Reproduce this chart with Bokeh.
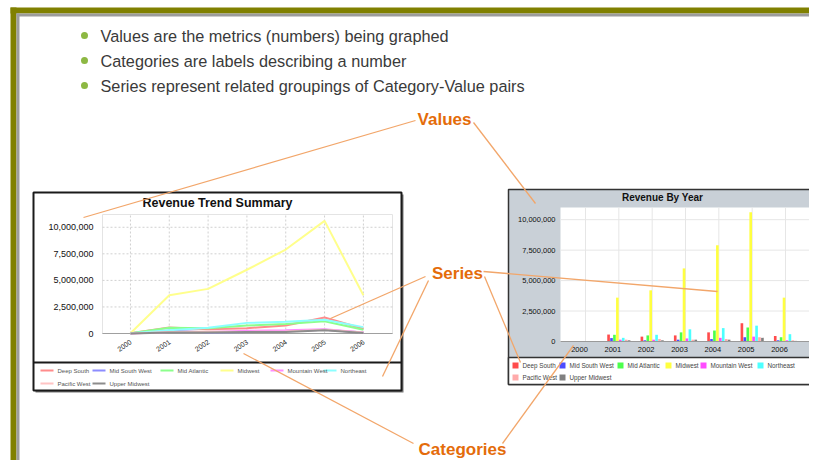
from bokeh.plotting import figure
from bokeh.models import Range1d
from bokeh.core.properties import value
from bokeh.embed import file_html
from bokeh.resources import INLINE

# ---------------- data ----------------
years = ["2000", "2001", "2002", "2003", "2004", "2005", "2006"]
series_names = ["Deep South", "Mid South West", "Mid Atlantic", "Midwest",
                "Mountain West", "Northeast", "Pacific West", "Upper Midwest"]
deep_south     = [20000, 570000, 400000, 500000, 750000, 1500000, 450000]
mid_south_west = [10000, 280000, 100000, 150000, 200000, 350000, 100000]
mid_atlantic   = [20000, 550000, 500000, 750000, 900000, 1150000, 350000]
midwest        = [30000, 3600000, 4200000, 6000000, 7900000, 10600000, 3600000]
mountain_west  = [10000, 150000, 150000, 250000, 300000, 400000, 100000]
northeast      = [20000, 300000, 550000, 1000000, 1100000, 1300000, 600000]
pacific_west   = [10000, 150000, 200000, 150000, 200000, 350000, 100000]
upper_midwest  = [5000, 100000, 100000, 150000, 150000, 300000, 50000]
all_series = [deep_south, mid_south_west, mid_atlantic, midwest,
              mountain_west, northeast, pacific_west, upper_midwest]

y_ticks = [0, 2500000, 5000000, 7500000, 10000000]
y_tick_labels = ["0", "2,500,000", "5,000,000", "7,500,000", "10,000,000"]

bullets = ["Values are the metrics (numbers) being graphed",
           "Categories are labels describing a number",
           "Series represent related groupings of Category-Value pairs"]
callouts = ["Values", "Series", "Categories"]
left_title = "Revenue Trend Summary"
right_title = "Revenue By Year"

# ---------------- styles ----------------
line_colors = ["#FF8C8C", "#8C8CFF", "#8CFF8C", "#FFFF8C",
               "#FF8CFF", "#8CFFFF", "#FFC4C4", "#8C8C8C"]
bar_colors = ["#FF4C4C", "#4C4CFF", "#4CFF4C", "#FFFF40",
              "#FF4CFF", "#4CFFFF", "#FFAAAA", "#808080"]
FONT = value("Liberation Sans")
ORANGE = "#E46C0A"
CALLOUT_LINE = "#F2A66A"

p = figure(width=809, height=460, x_range=Range1d(0, 809), y_range=Range1d(460, 0),
           output_backend="svg", toolbar_location=None, min_border=0,
           x_axis_type=None, y_axis_type=None)
p.grid.visible = False
p.outline_line_color = None
p.background_fill_color = "white"
p.border_fill_color = "white"

# ---------------- slide frame ----------------
p.quad(left=[10, 10], right=[830, 16], top=[7, 7], bottom=[13, 480],
       fill_color="#808000", line_color=None)
p.quad(left=[16, 16], right=[830, 19], top=[13, 13], bottom=[16, 472],
       fill_color="#9C9C9C", line_color=None)
p.quad(left=[10], right=[830], top=[472], bottom=[480],
       fill_color="#808000", line_color=None)
p.segment(x0=[19], x1=[830], y0=[471.5], y1=[471.5], line_color="#A8A8A8", line_width=1)

# ---------------- bullets ----------------
bullet_y = [35, 60, 85]
p.scatter(x=[84] * 3, y=bullet_y, size=7, fill_color="#8DB843", line_color=None)
p.text(x=[100] * 3, y=bullet_y, text=bullets, text_font=FONT, text_font_size="16.3px",
       text_color="#3A3A3A", text_baseline="middle", text_align="left")

# ---------------- left chart: Revenue Trend Summary ----------------
p.quad(left=[35], right=[403], top=[194], bottom=[392], fill_color="#777777", line_color=None)
p.quad(left=[33], right=[401], top=[192], bottom=[390], fill_color="white",
       line_color="#1A1A1A", line_width=2)
p.segment(x0=[33], x1=[401], y0=[362], y1=[362], line_color="#1A1A1A", line_width=2)
p.text(x=[217], y=[202], text=[left_title], text_font=FONT, text_font_size="12.5px",
       text_font_style="bold", text_color="#111111", text_align="center", text_baseline="middle")

L = p.subplot(x_source=Range1d(-0.72, 6.75), y_source=Range1d(0, 11200000),
              x_target=Range1d(102, 392), y_target=Range1d(333, 214))
LY = p.subplot(x_source=Range1d(0, 1), y_source=Range1d(0, 11200000),
               x_target=Range1d(0, 1), y_target=Range1d(333, 214))
LX = p.subplot(x_source=Range1d(-0.72, 6.75), y_source=Range1d(0, 1),
               x_target=Range1d(102, 392), y_target=Range1d(0, 1))
idx = list(range(len(years)))
L.quad(left=[-0.72], right=[6.75], bottom=[0], top=[11200000], fill_color=None,
       line_color="#E4E4E4", line_width=1)
L.segment(x0=[-0.72] * len(y_ticks), x1=[6.75] * len(y_ticks), y0=y_ticks, y1=y_ticks,
          line_color="#D0D0D0", line_dash="2 2", line_width=1)
L.segment(x0=idx, x1=idx, y0=[0] * len(idx), y1=[11200000] * len(idx),
          line_color="#D0D0D0", line_dash="2 2", line_width=1)
L.segment(x0=[-0.72], x1=[6.75], y0=[0], y1=[0], line_color="#A0A0A0", line_width=1)
for vals, col in zip(all_series, line_colors):
    L.line(x=idx, y=vals, line_color=col, line_width=2)
LY.text(x=[93] * len(y_ticks), y=y_ticks, text=y_tick_labels, text_font=FONT,
        text_font_size="9px", text_color="#111111", text_align="right", text_baseline="middle")
LX.text(x=idx, y=[345] * len(idx), text=years, text_font=FONT, text_font_size="7px",
        text_color="#222222", text_align="center", text_baseline="middle", angle=0.6,
        x_offset=-6)

# left legend
ll_x0 = [40, 92, 160, 220, 270, 323, 40, 92]
ll_y = [370, 370, 370, 370, 370, 370, 383, 383]
p.segment(x0=ll_x0, x1=[x + 13 for x in ll_x0], y0=ll_y, y1=ll_y,
          line_color=line_colors, line_width=2)
p.text(x=[x + 17 for x in ll_x0], y=ll_y, text=series_names, text_font=FONT,
       text_font_size="6px", text_color="#555555", text_baseline="middle")

# ---------------- right chart: Revenue By Year ----------------
p.quad(left=[508], right=[817], top=[189], bottom=[384], fill_color="#C9D0D7",
       line_color="#333333", line_width=1.5)
p.text(x=[662], y=[197], text=[right_title], text_font=FONT, text_font_size="10px",
       text_font_style="bold", text_color="#111111", text_align="center", text_baseline="middle")

R = p.subplot(x_source=Range1d(-0.75, 6.75), y_source=Range1d(0, 11000000),
              x_target=Range1d(560, 810), y_target=Range1d(341, 207))
RY = p.subplot(x_source=Range1d(0, 1), y_source=Range1d(0, 11000000),
               x_target=Range1d(0, 1), y_target=Range1d(341, 207))
RX = p.subplot(x_source=Range1d(-0.75, 6.75), y_source=Range1d(0, 1),
               x_target=Range1d(560, 810), y_target=Range1d(0, 1))
R.quad(left=[-0.75], right=[6.75], bottom=[0], top=[11000000], fill_color="white",
       line_color=None)
R.segment(x0=[-0.75] * len(y_ticks), x1=[6.75] * len(y_ticks), y0=y_ticks, y1=y_ticks,
          line_color="#E6E6E6", line_width=1)
R.segment(x0=idx, x1=idx, y0=[0] * len(idx), y1=[11000000] * len(idx),
          line_color="#E6E6E6", line_width=1)
bar_w = 0.088
for k, (vals, col) in enumerate(zip(all_series, bar_colors)):
    R.vbar(x=[i + (k - 3.5) * bar_w for i in idx], top=vals, width=bar_w * 0.9,
           fill_color=col, line_color=None)
R.segment(x0=[-0.75], x1=[6.75], y0=[0], y1=[0], line_color="#9A9A9A", line_width=1)
RY.text(x=[555] * len(y_ticks), y=y_ticks, text=y_tick_labels, text_font=FONT,
        text_font_size="7.5px", text_color="#111111", text_align="right", text_baseline="middle")
RX.text(x=idx, y=[349] * len(idx), text=years, text_font=FONT, text_font_size="7.5px",
        text_color="#111111", text_align="center", text_baseline="middle", x_offset=-6)

# right legend
p.quad(left=[508], right=[817], top=[357], bottom=[384], fill_color="white",
       line_color="#333333", line_width=1.5)
rl_x = [515, 562, 620, 668, 703, 760, 515, 562]
rl_y = [365, 365, 365, 365, 365, 365, 377, 377]
p.scatter(x=rl_x, y=rl_y, marker="square", size=6, fill_color=bar_colors, line_color=None)
p.text(x=[x + 7 for x in rl_x], y=rl_y, text=series_names, text_font=FONT,
       text_font_size="6.3px", text_color="#444444", text_baseline="middle")

# ---------------- callouts ----------------
p.segment(x0=[415, 473, 425, 428, 483, 484, 413, 502],
          y0=[120, 122, 276, 280, 271, 276, 443, 443],
          x1=[83, 535, 330, 382, 717, 520, 243, 573],
          y1=[217, 203, 318, 376, 291, 362, 353, 345],
          line_color=CALLOUT_LINE, line_width=1.3)
p.text(x=[444, 457, 462], y=[119, 273, 449], text=callouts, text_font=FONT,
       text_font_size="17px", text_font_style="bold", text_color=ORANGE,
       text_align="center", text_baseline="middle")

open("out.html", "w").write(file_html(p, INLINE))
